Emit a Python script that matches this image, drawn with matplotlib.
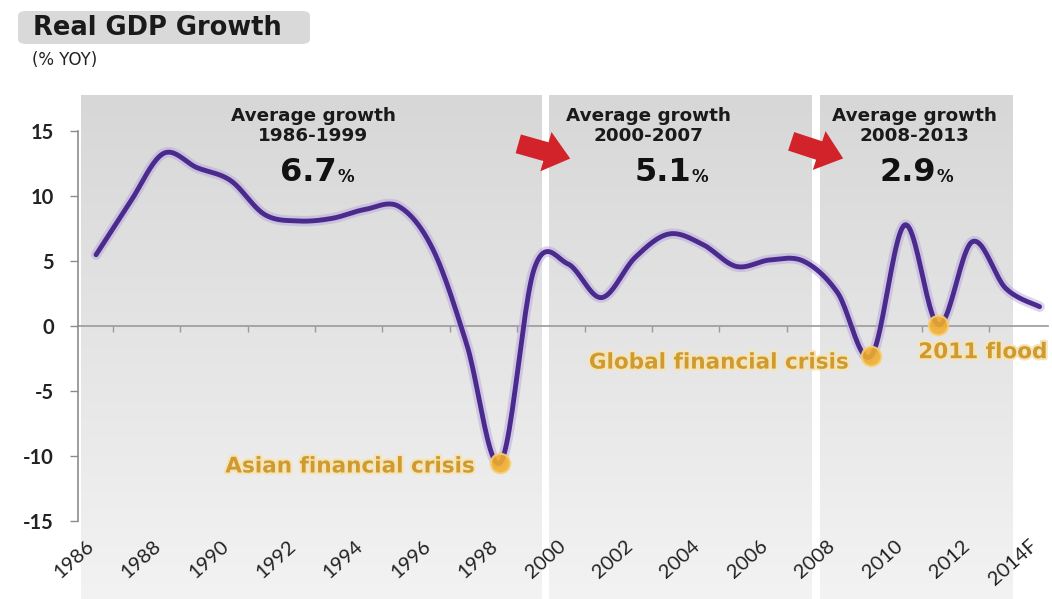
import numpy as np
import matplotlib
matplotlib.use("Agg")
import matplotlib.pyplot as plt
import matplotlib.patheffects as pe
import matplotlib.transforms as mtransforms
from matplotlib.patches import FancyBboxPatch, FancyArrowPatch
from matplotlib.colors import LinearSegmentedColormap

plt.rcParams['font.family'] = ['Lato', 'DejaVu Sans']
WIDE = ['DejaVu Sans']

# ---- data -------------------------------------------------------------
years = list(range(1986, 2015))
growth = [5.5, 9.5, 13.3, 12.2, 11.2, 8.6, 8.1, 8.3, 9.0, 9.2,
          5.9, -1.4, -10.5, 4.4, 4.8, 2.2, 5.3, 7.1, 6.3, 4.6,
          5.1, 5.0, 2.6, -2.3, 7.8, 0.1, 6.5, 2.9, 1.5]
tick_years = years[::2]
tick_labels = [str(y) for y in tick_years[:-1]] + ["2014F"]
y_ticks = [15, 10, 5, 0, -5, -10, -15]

periods = ["1986-1999", "2000-2007", "2008-2013"]
period_avg = [6.7, 5.1, 2.9]
period_spans = [(1985.55, 1999.22), (1999.45, 2007.25), (2007.48, 2013.18)]

crisis_years = [1998, 2009, 2011]
crisis_labels = ["Asian financial crisis", "Global financial crisis", "2011 flood"]


def smooth_curve(x, y, steps=24):
    """Cubic Bezier smoothing through every point (Catmull-Rom style)."""
    p = np.column_stack([x, y]).astype(float)
    p_ext = np.vstack([p[0], p, p[-1]])
    out = []
    t = np.linspace(0, 1, steps)[:, None]
    for i in range(len(p) - 1):
        p0, p1, p2, p3 = p_ext[i], p_ext[i + 1], p_ext[i + 2], p_ext[i + 3]
        c1 = p1 + (p2 - p0) / 6.0
        c2 = p2 - (p3 - p1) / 6.0
        seg = ((1 - t) ** 3) * p1 + 3 * ((1 - t) ** 2) * t * c1 \
            + 3 * (1 - t) * t ** 2 * c2 + t ** 3 * p2
        out.append(seg if i == 0 else seg[1:])
    s = np.vstack(out)
    return s[:, 0], s[:, 1]


# ---- figure -----------------------------------------------------------
fig = plt.figure(figsize=(10.52, 5.99), dpi=100)
fig.patch.set_facecolor("white")
ax = fig.add_axes([0.0737, 0.1302, 0.9225, 0.7112])
ax.set_facecolor("none")

xmin, xmax = 1985.45, 2014.25
ymin, ymax = -15, 17.8

# gradient panels behind each period (extend down behind the year labels)
grad = np.linspace(0, 1, 256)[:, None]
panel_cmap = LinearSegmentedColormap.from_list("panel", ["#d7d7d7", "#f3f3f3"])
for x0, x1 in period_spans:
    ax.imshow(grad, cmap=panel_cmap, aspect="auto",
              extent=(x0, x1, -21.2, 17.75), origin="upper",
              clip_on=False, zorder=0, interpolation="bilinear")

# GDP line
sx, sy = smooth_curve(years, growth)
ax.plot(sx, sy, color="#4a2a8c", lw=3.5, solid_capstyle="round", zorder=4,
        path_effects=[pe.Stroke(linewidth=7.5, foreground="#b8a6dc", alpha=0.5),
                      pe.Normal()])

# crisis markers
cx = crisis_years
cy = [growth[years.index(y)] for y in crisis_years]
ax.plot(cx, cy, "o", ms=14, mfc="#f2ae2c", mec="#f8cf72", mew=1.5,
        alpha=0.88, zorder=5, ls="none")

label_fx = [pe.withStroke(linewidth=3, foreground="#f5e4b8")]
label_kw = dict(color="#cf9a30", fontsize=15.5, fontweight="bold", zorder=6,
                path_effects=label_fx, va="center", family=WIDE)
ax.text(1997.2, -10.8, crisis_labels[0], ha="right", **label_kw)
ax.text(2008.3, -2.8, crisis_labels[1], ha="right", **label_kw)
ax.text(2010.4, -2.0, crisis_labels[2], ha="left", **label_kw)

# period annotations
centers = [1992.45, 2002.4, 2010.3]
splits = [1993.15, 2003.66, 2010.93]
for (lbl, avg, xc, xs) in zip(periods, period_avg, centers, splits):
    ax.text(xc, 16.2, "Average growth", ha="center", va="center",
            fontsize=13.2, fontweight="bold", color="#1a1a1a", zorder=6,
            family=WIDE)
    ax.text(xc, 14.65, lbl, ha="center", va="center",
            fontsize=13.2, fontweight="bold", color="#1a1a1a", zorder=6,
            family=WIDE)
    ax.text(xs, 11.8, f"{avg:.1f}", ha="right", va="center",
            fontsize=23, fontweight="bold", color="#111111", zorder=6,
            family=WIDE)
    ax.text(xs + 0.02, 11.5, "%", ha="left", va="center",
            fontsize=12, fontweight="bold", color="#111111", zorder=6,
            family=WIDE)

# red arrows between periods
arrow_style = "simple,head_width=2.1,head_length=1.3,tail_width=1.0"
for (a0, a1) in [((1998.45, 14.1), (2000.15, 12.85)),
                 ((2006.55, 14.3), (2008.25, 12.85))]:
    ax.add_patch(FancyArrowPatch(a0, a1, arrowstyle=arrow_style,
                                 mutation_scale=14, color="#d3232a",
                                 lw=0, zorder=6))

# axes styling
ax.set_xlim(xmin, xmax)
ax.set_ylim(ymin, ymax)
for side in ["top", "right", "bottom"]:
    ax.spines[side].set_visible(False)
ax.spines["left"].set_bounds(-15, 15)
ax.spines["left"].set_color("#8c8c8c")
ax.spines["left"].set_linewidth(1.2)

ax.set_yticks(y_ticks)
ax.set_yticklabels([str(v) for v in y_ticks])
ax.tick_params(axis="y", direction="out", length=6, width=1, color="#8c8c8c",
               labelsize=14.5, labelcolor="#222222", pad=11)
for t in ax.get_yticklabels():
    t.set_fontweight("bold")

ax.set_xticks(tick_years)
ax.set_xticklabels(tick_labels, rotation=42, ha="right", va="center",
                   rotation_mode="anchor")
ax.tick_params(axis="x", length=0, labelsize=14.5, labelcolor="#222222", pad=16)
shift = mtransforms.ScaledTranslation(-5 / 100, 0, fig.dpi_scale_trans)
for lab in ax.get_xticklabels():
    lab.set_transform(lab.get_transform() + shift)

# zero line with category tick marks
zero_frac = (0 - ymin) / (ymax - ymin)
zax = ax.secondary_xaxis(zero_frac)
zax.set_xticks([y + 0.5 for y in tick_years[:-1]])
zax.tick_params(axis="x", direction="out", length=4, width=1,
                color="#9a9a9a", labelbottom=False, labeltop=False,
                bottom=True, top=False)
zax.spines["bottom"].set_color("#9a9a9a")
zax.spines["bottom"].set_linewidth(1.2)
zax.spines["top"].set_visible(False)

# title box
fig.patches.append(FancyBboxPatch((18 / 1052, (599 - 44) / 599),
                                  292 / 1052, 33 / 599,
                                  boxstyle="round,pad=0,rounding_size=0.008",
                                  transform=fig.transFigure,
                                  facecolor="#d9d9d9", edgecolor="none"))
fig.text(33 / 1052, (599 - 28) / 599, "Real GDP Growth", ha="left",
         va="center", fontsize=18.5, fontweight="bold", color="#1a1a1a",
         family=WIDE)
fig.text(32 / 1052, (599 - 60) / 599, "(% YOY)", ha="left", va="center",
         fontsize=12, color="#222222", family=WIDE)

fig.savefig("out.png", dpi=100)
